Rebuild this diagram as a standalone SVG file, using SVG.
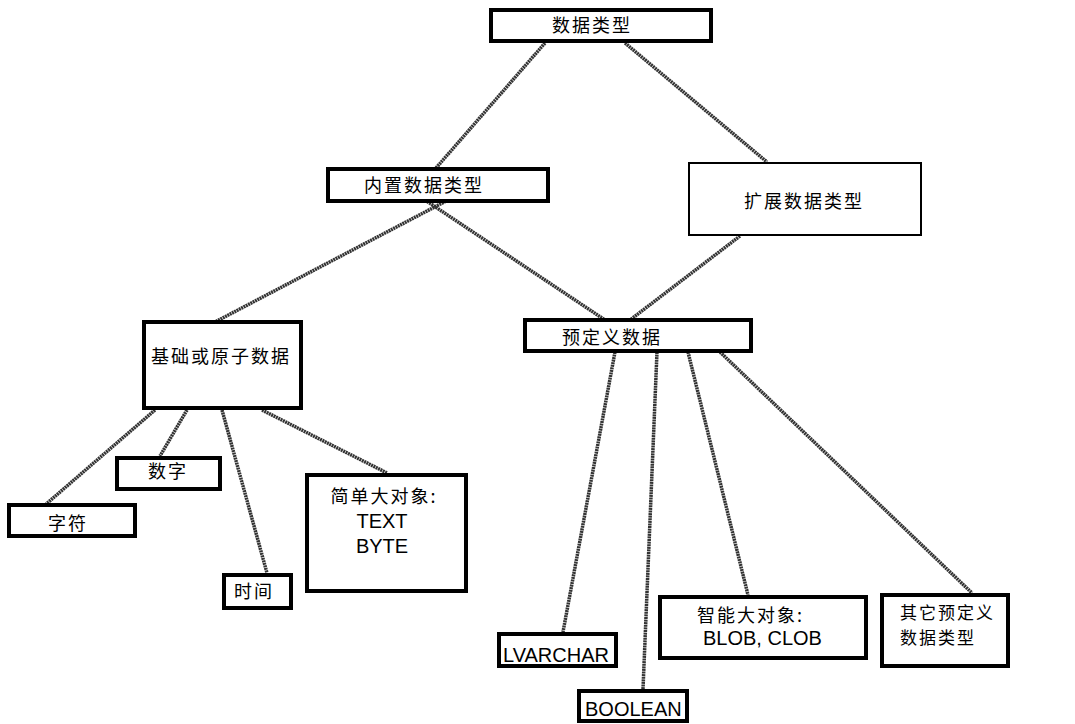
<svg xmlns="http://www.w3.org/2000/svg" width="1075" height="724" viewBox="0 0 1075 724">
  <style>
    .box { fill: #fff; stroke: #000; stroke-width: 4; }
    .thin { stroke-width: 2; }
    .cjk { font-family: "Noto Sans CJK SC", "Noto Sans", sans-serif; font-size: 18px; fill: #000; letter-spacing: 2px; }
    .small { font-size: 17px; }
    .lat { font-family: "Liberation Sans", Arial, sans-serif; font-size: 20px; fill: #000; }
    .link { stroke: #333; stroke-width: 3.5; fill: none; stroke-dasharray: 2 0.6; }
  </style>
  <rect width="1075" height="724" fill="#fff"/>

  <!-- connectors -->
  <g id="connectors">
    <line class="link" x1="545" y1="43" x2="436" y2="168"/>
    <line class="link" x1="625" y1="43" x2="767" y2="162"/>
    <line class="link" x1="448" y1="200" x2="215" y2="322"/>
    <line class="link" x1="425" y1="200" x2="605" y2="320"/>
    <line class="link" x1="740" y1="236" x2="630" y2="320"/>
    <line class="link" x1="155" y1="410" x2="45" y2="505"/>
    <line class="link" x1="187" y1="410" x2="160" y2="456"/>
    <line class="link" x1="222" y1="410" x2="267" y2="573"/>
    <line class="link" x1="262" y1="410" x2="387" y2="473"/>
    <line class="link" x1="615" y1="352" x2="563" y2="632"/>
    <line class="link" x1="657" y1="352" x2="643" y2="689"/>
    <line class="link" x1="688" y1="352" x2="748" y2="595"/>
    <line class="link" x1="720" y1="352" x2="972" y2="593"/>
  </g>

  <g id="root">
    <rect class="box" x="491" y="10" width="220" height="31"/>
    <text class="cjk" x="592" y="32" text-anchor="middle">数据类型</text>
  </g>
  <g id="builtin">
    <rect class="box" x="328" y="169" width="220" height="32"/>
    <text class="cjk" x="424" y="192" text-anchor="middle">内置数据类型</text>
  </g>
  <g id="extended">
    <rect class="box thin" x="689" y="163" width="232" height="72"/>
    <text class="cjk" x="804" y="208" text-anchor="middle">扩展数据类型</text>
  </g>
  <g id="basic">
    <rect class="box" x="144" y="322" width="157" height="86"/>
    <text class="cjk" x="221" y="363" text-anchor="middle">基础或原子数据</text>
  </g>
  <g id="predefined">
    <rect class="box" x="525" y="320" width="226" height="31"/>
    <text class="cjk" x="612" y="344" text-anchor="middle">预定义数据</text>
  </g>
  <g id="number">
    <rect class="box" x="117" y="458" width="103" height="31"/>
    <text class="cjk" x="168" y="478" text-anchor="middle">数字</text>
  </g>
  <g id="char">
    <rect class="box" x="9" y="505" width="126" height="31"/>
    <text class="cjk" x="68" y="530" text-anchor="middle">字符</text>
  </g>
  <g id="time">
    <rect class="box" x="224" y="575" width="67" height="33"/>
    <text class="cjk" x="254" y="598" text-anchor="middle">时间</text>
  </g>
  <g id="simple-lob">
    <rect class="box" x="307" y="475" width="159" height="116"/>
    <text class="cjk" x="384" y="503" text-anchor="middle">简单大对象:</text>
    <text class="lat" x="382" y="528" text-anchor="middle">TEXT</text>
    <text class="lat" x="382" y="553" text-anchor="middle">BYTE</text>
  </g>
  <g id="lvarchar">
    <rect class="box" x="499" y="634" width="117" height="32"/>
    <text class="lat" x="503" y="662">LVARCHAR</text>
  </g>
  <g id="boolean">
    <rect class="box" x="579" y="691" width="108" height="30"/>
    <text class="lat" x="585" y="716">BOOLEAN</text>
  </g>
  <g id="smart-lob">
    <rect class="box" x="660" y="597" width="206" height="61"/>
    <text class="cjk" x="697" y="622">智能大对象:</text>
    <text class="lat" x="703" y="645">BLOB, CLOB</text>
  </g>
  <g id="other">
    <rect class="box" x="882" y="595" width="126" height="71"/>
    <text class="cjk small" x="900" y="619">其它预定义</text>
    <text class="cjk small" x="900" y="644">数据类型</text>
  </g>
</svg>
